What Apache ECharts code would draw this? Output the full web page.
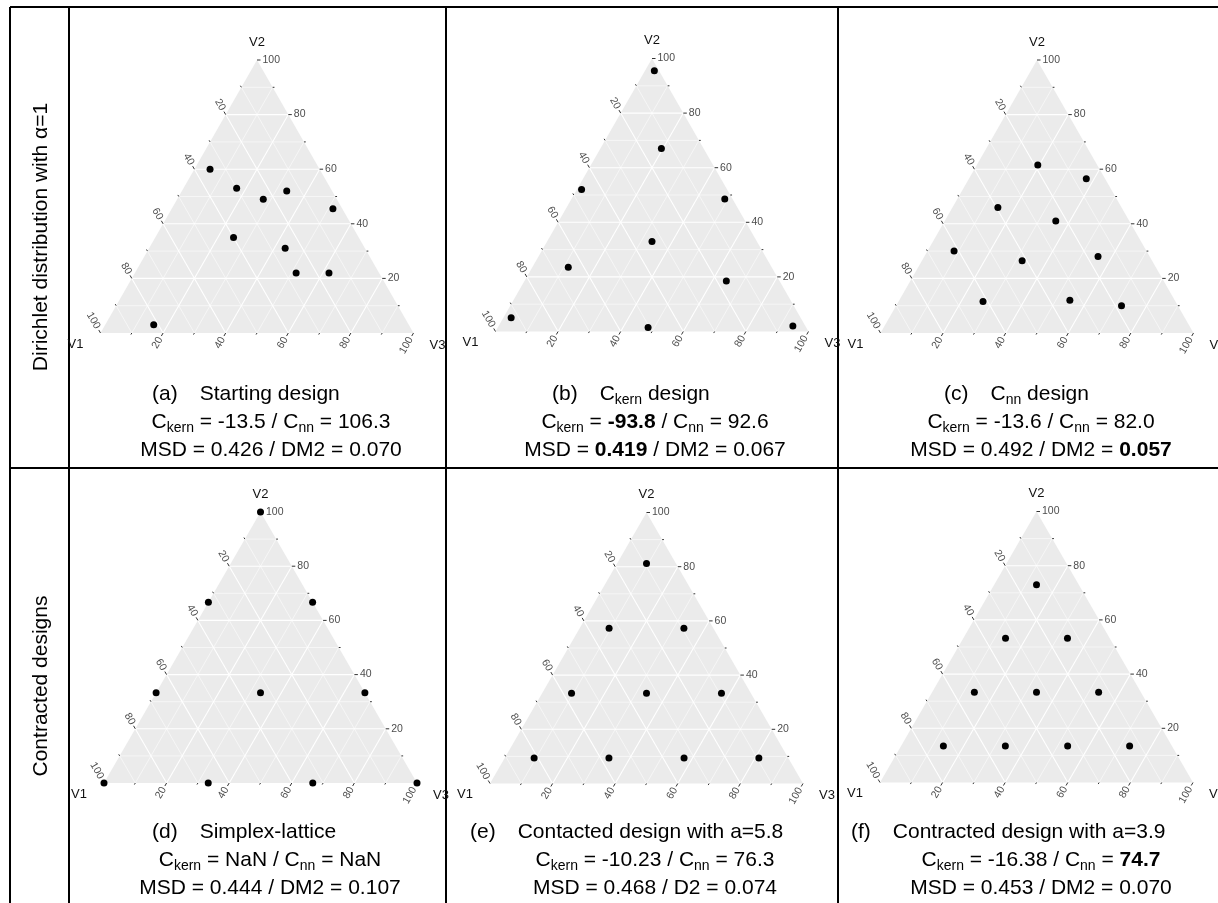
<!DOCTYPE html>
<html>
<head>
<meta charset="utf-8">
<script src="https://cdn.jsdelivr.net/npm/echarts@6.0.0/dist/echarts.min.js"></script>
<style>
html, body { margin: 0; padding: 0; background: #fff; }
#main { width: 1218px; height: 903px; }
</style>
</head>
<body>
<div id="main"></div>
<script>
// 刻度
var gridTicks = [10, 20, 30, 40, 50, 60, 70, 80, 90];
var edgeTicks = [10, 20, 30, 40, 50, 60, 70, 80, 90, 100];
var labelTicks = [20, 40, 60, 80, 100];
var axisNames = ['V1', 'V2', 'V3'];

// 设计点 [V1, V2, V3] (%)
var designA = [[35, 60, 5], [30, 53, 17], [23.5, 49, 27.5], [14.5, 52, 33.5], [3, 45.5, 51.5],
    [40, 35, 25], [25.5, 31, 43.5], [26.5, 22, 51.5], [16, 22, 62], [81.5, 3, 15.5]];
var designB = [[1.5, 95.5, 3], [13.5, 67, 19.5], [46.5, 52, 1.5], [2.5, 48.5, 49], [33.5, 33, 33.5],
    [65, 23.5, 11.5], [17, 18.5, 64.5], [92.5, 5, 2.5], [50.5, 1.5, 48], [4, 2, 94]];
var designC = [[19, 61.5, 19.5], [6, 56.5, 37.5], [39.5, 46, 14.5], [23.5, 41, 35.5], [61.5, 30, 8.5],
    [41.5, 26.5, 32], [16.5, 28, 55.5], [61.5, 11.5, 27], [33.5, 12, 54.5], [18, 10, 72]];
var designD = [[0, 100, 0], [33.3, 66.7, 0], [0, 66.7, 33.3], [66.7, 33.3, 0], [33.3, 33.3, 33.3],
    [0, 33.3, 66.7], [100, 0, 0], [66.7, 0, 33.3], [33.3, 0, 66.7], [0, 0, 100]];
var designE = [[9.4, 81.2, 9.4], [33.3, 57.3, 9.4], [9.4, 57.3, 33.3], [57.3, 33.3, 9.4], [33.3, 33.3, 33.3],
    [9.4, 33.3, 57.3], [81.2, 9.4, 9.4], [57.3, 9.4, 33.3], [33.3, 9.4, 57.3], [9.4, 9.4, 81.2]];
var designF = [[13.5, 73, 13.5], [33.3, 53.2, 13.5], [13.5, 53.2, 33.3], [53.2, 33.3, 13.5], [33.3, 33.3, 33.3],
    [13.5, 33.3, 53.2], [73, 13.5, 13.5], [53.2, 13.5, 33.3], [33.3, 13.5, 53.2], [13.5, 13.5, 73]];

// 标题文字
var titleTexts = ['{n|(a)}{t|Starting design}', '{n|(b)}{t|C}{s|kern}{t| design}', '{n|(c)}{t|C}{s|nn}{t| design}',
    '{n|(d)}{t|Simplex-lattice}', '{n|(e)}{t|Contacted design with a=5.8}', '{n|(f)}{t|Contracted design with a=3.9}'];
var critTexts = ['{t|C}{s|kern}{t| = -13.5 / C}{s|nn}{t| = 106.3}',
    '{t|C}{s|kern}{t| = }{b|-93.8}{t| / C}{s|nn}{t| = 92.6}',
    '{t|C}{s|kern}{t| = -13.6 / C}{s|nn}{t| = 82.0}',
    '{t|C}{s|kern}{t| = NaN / C}{s|nn}{t| = NaN}',
    '{t|C}{s|kern}{t| = -10.23 / C}{s|nn}{t| = 76.3}',
    '{t|C}{s|kern}{t| = -16.38 / C}{s|nn}{t| = }{b|74.7}'];
var msdTexts = ['{t|MSD = 0.426 / DM2 = 0.070}', '{t|MSD = }{b|0.419}{t| / DM2 = 0.067}',
    '{t|MSD = 0.492 / DM2 = }{b|0.057}', '{t|MSD = 0.444 / DM2 = 0.107}',
    '{t|MSD = 0.468 / D2 = 0.074}', '{t|MSD = 0.453 / DM2 = 0.070}'];
var rowLabels = ['Dirichlet distribution with \u03b1=1', 'Contracted designs'];

var SQ3 = Math.sqrt(3) / 2;
var FONT = '"Liberation Sans", Arial, sans-serif';

//三元坐标转直角坐标
function toXY(p) {
    var s = p[0] + p[1] + p[2];
    return [(p[2] + p[1] / 2) / s, p[1] / s * SQ3];
}

// 每个面板的位置
var panels = [
    { left: 100.5, top: 60, height: 273, data: designA, tx: 152, cx: 271, ty: 394 },
    { left: 495.5, top: 58.5, height: 273, data: designB, tx: 552, cx: 655, ty: 394 },
    { left: 880.5, top: 60, height: 273, data: designC, tx: 944, cx: 1041, ty: 394 },
    { left: 104, top: 512, height: 271, data: designD, tx: 152, cx: 270, ty: 832 },
    { left: 490, top: 512.5, height: 271, data: designE, tx: 470, cx: 655, ty: 832 },
    { left: 880, top: 511.5, height: 271, data: designF, tx: 851, cx: 1041, ty: 832 }
];

function unit(p, q) {
    var dx = p[0] - q[0], dy = p[1] - q[1];
    var l = Math.sqrt(dx * dx + dy * dy);
    return [dx / l, dy / l];
}

function textEl(x, y, text, rot, align, size, color) {
    return {
        type: 'text', x: x, y: y, rotation: rot || 0,
        style: {
            legacy: false, text: text, fill: color, align: align, verticalAlign: 'middle',
            fontSize: size, fontFamily: FONT
        }
    };
}

//画三角形、网格线、刻度
function renderFrame(params, api) {
    function pt(a, b, c) { return api.coord(toXY([a, b, c])); }
    var A = pt(100, 0, 0), B = pt(0, 100, 0), C = pt(0, 0, 100);
    var kids = [];
    kids.push({ type: 'polygon', shape: { points: [A, B, C] }, style: { fill: '#EBEBEB' } });
    gridTicks.forEach(function(t) {
        var w = t % 20 == 0 ? 1.1 : 0.55;
        var segs = [
            [pt(t, 100 - t, 0), pt(t, 0, 100 - t)],
            [pt(100 - t, t, 0), pt(0, t, 100 - t)],
            [pt(100 - t, 0, t), pt(0, 100 - t, t)]
        ];
        segs.forEach(function(s) {
            kids.push({ type: 'line', shape: { x1: s[0][0], y1: s[0][1], x2: s[1][0], y2: s[1][1] },
                style: { stroke: '#fff', lineWidth: w } });
        });
    });
    var dirs = [unit(B, C), unit(C, A), unit(A, B)];
    var edgePt = [
        function(t) { return pt(t, 100 - t, 0); },
        function(t) { return pt(0, t, 100 - t); },
        function(t) { return pt(100 - t, 0, t); }
    ];
    for (var k = 0; k < 3; k++) {
        var d = dirs[k];
        edgeTicks.forEach(function(t) {
            var p = edgePt[k](t);
            var len = t % 20 == 0 ? 3.5 : 1.8;
            kids.push({ type: 'line', shape: { x1: p[0], y1: p[1], x2: p[0] + d[0] * len, y2: p[1] + d[1] * len },
                style: { stroke: '#333', lineWidth: 1 } });
        });
        var ang = Math.atan2(d[1], d[0]);
        var align = 'left';
        if (Math.abs(ang) > Math.PI / 2 + 0.01) {
            ang = ang > 0 ? ang - Math.PI : ang + Math.PI;
            align = 'right';
        }
        labelTicks.forEach(function(t) {
            var p = edgePt[k](t);
            kids.push(textEl(p[0] + d[0] * 5.5, p[1] + d[1] * 5.5, String(t), -ang, align, 10.5, '#4D4D4D'));
        });
    }
    kids.push(textEl(A[0] - 25, A[1] + 11, axisNames[0], 0, 'center', 13, '#111'));
    kids.push(textEl(B[0], B[1] - 18, axisNames[1], 0, 'center', 13, '#111'));
    kids.push(textEl(C[0] + 24, C[1] + 12, axisNames[2], 0, 'center', 13, '#111'));
    return { type: 'group', children: kids };
}

var richStyle = {
    t: { fontSize: 21, fontFamily: FONT, fill: '#000', lineHeight: 26 },
    n: { fontSize: 21, fontFamily: FONT, fill: '#000', lineHeight: 26, padding: [0, 22, 0, 0] },
    b: { fontSize: 21, fontFamily: FONT, fill: '#000', lineHeight: 26, fontWeight: 'bold' },
    s: { fontSize: 14, fontFamily: FONT, fill: '#000', lineHeight: 14, verticalAlign: 'bottom' }
};

function richText(x, y, text, align) {
    return {
        type: 'text', x: x, y: y,
        style: { legacy: false, text: text, rich: richStyle, align: align, verticalAlign: 'middle',
            fontSize: 21, fontFamily: FONT, fill: '#000' }
    };
}

var grids = [], xAxes = [], yAxes = [], series = [], elements = [];
for (var i = 0; i < panels.length; i++) {
    var pn = panels[i];
    grids.push({ left: pn.left, top: pn.top, width: 313, height: pn.height, show: false });
    xAxes.push({ gridIndex: i, type: 'value', min: 0, max: 1, show: false });
    yAxes.push({ gridIndex: i, type: 'value', min: 0, max: SQ3, show: false });
    series.push({
        type: 'custom', xAxisIndex: i, yAxisIndex: i, data: [[0, 0]], clip: false, silent: true,
        renderItem: renderFrame, z: 1
    });
    series.push({
        type: 'scatter', xAxisIndex: i, yAxisIndex: i, data: pn.data.map(toXY), clip: false,
        symbol: 'circle', symbolSize: 7, itemStyle: { color: '#000', opacity: 1 }, z: 5, silent: true
    });
    elements.push(richText(pn.tx, pn.ty, titleTexts[i], 'left'));
    elements.push(richText(pn.cx, pn.ty + 28, critTexts[i], 'center'));
    elements.push(richText(pn.cx, pn.ty + 56, msdTexts[i], 'center'));
}

// 表格线
var lineStyle = { stroke: '#000', lineWidth: 2 };
[[10, 7, 1218, 7], [10, 468, 1218, 468], [10, 7, 10, 903], [69, 7, 69, 903], [446, 7, 446, 903], [838, 7, 838, 903]]
    .forEach(function(l) {
        elements.push({ type: 'line', shape: { x1: l[0], y1: l[1], x2: l[2], y2: l[3] }, style: lineStyle });
    });
elements.push({ type: 'text', x: 41, y: 237, rotation: Math.PI / 2,
    style: { legacy: false, text: rowLabels[0], align: 'center', verticalAlign: 'middle', fontSize: 21, fontFamily: FONT, fill: '#000' } });
elements.push({ type: 'text', x: 41, y: 686, rotation: Math.PI / 2,
    style: { legacy: false, text: rowLabels[1], align: 'center', verticalAlign: 'middle', fontSize: 21, fontFamily: FONT, fill: '#000' } });

var chart = echarts.init(document.getElementById('main'));
chart.setOption({
    animation: false,
    backgroundColor: '#fff',
    grid: grids,
    xAxis: xAxes,
    yAxis: yAxes,
    series: series,
    graphic: { elements: elements }
});
</script>
</body>
</html>
